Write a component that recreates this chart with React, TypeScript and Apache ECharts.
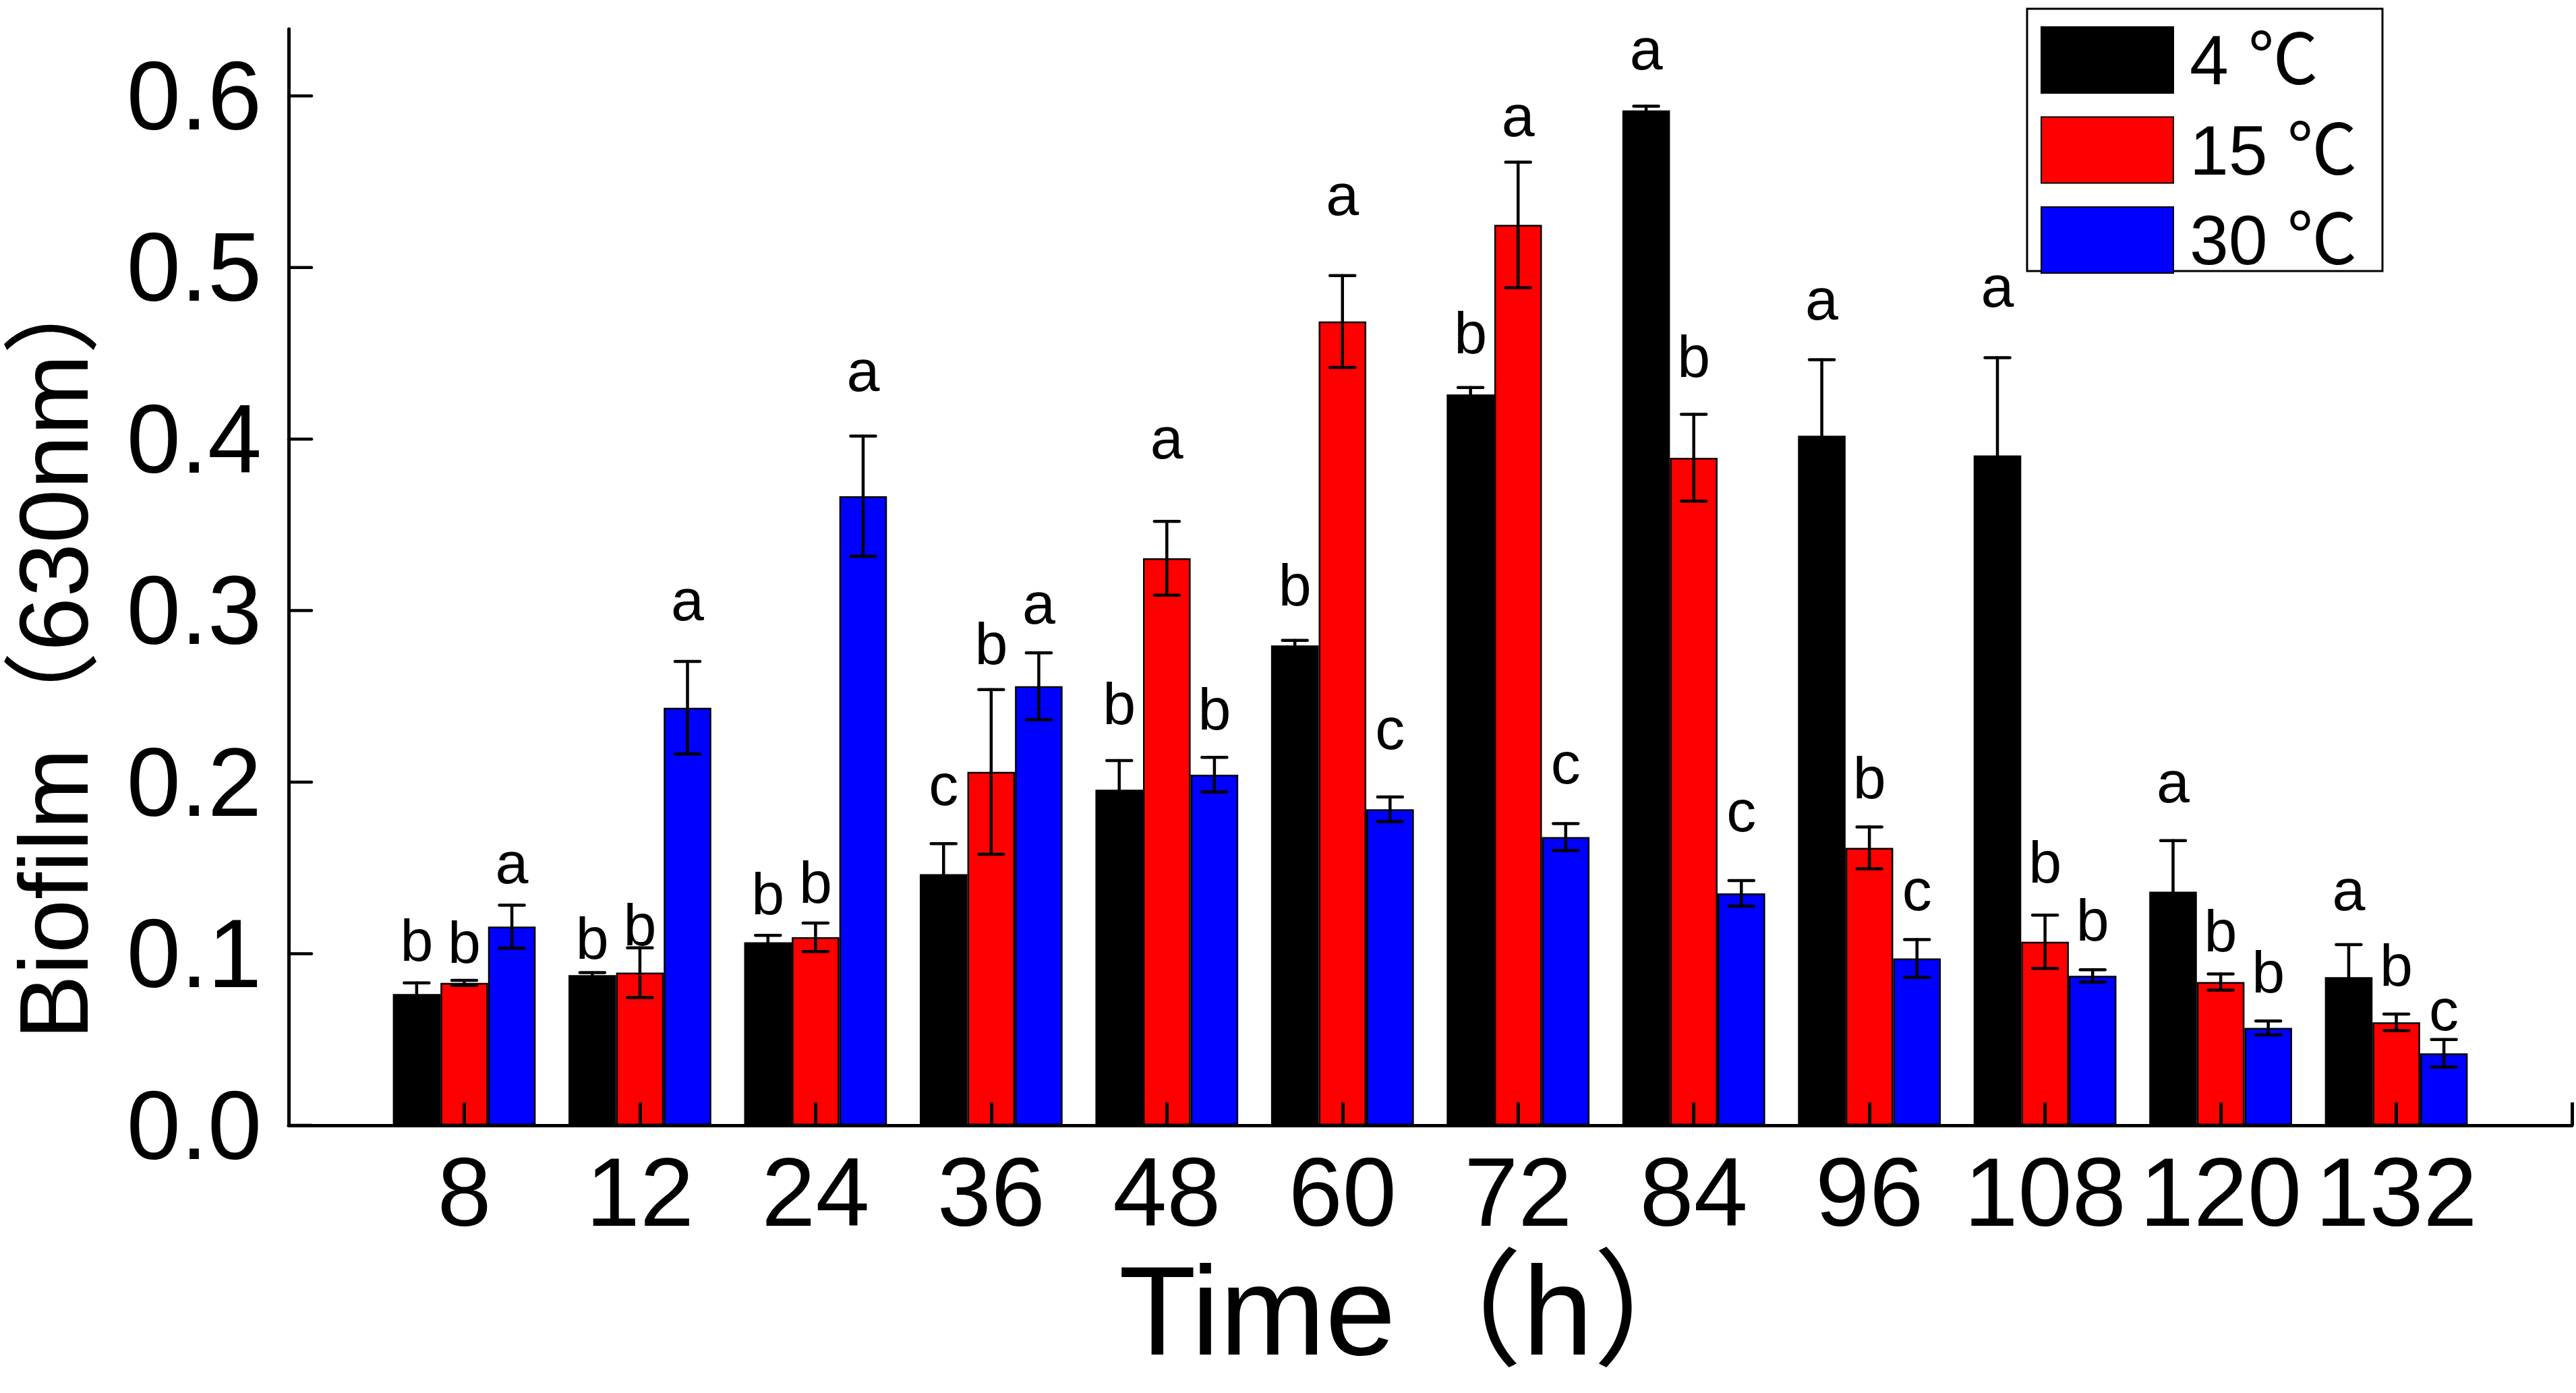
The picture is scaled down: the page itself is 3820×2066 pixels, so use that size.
import React, { useEffect, useRef } from "react";
import * as echarts from "echarts";

// ---- data ----
const categories = ["8", "12", "24", "36", "48", "60", "72", "84", "96", "108", "120", "132"];
const seriesNames = ["4 ℃", "15 ℃", "30 ℃"];

const mean4 = [0.0765, 0.0875, 0.1067, 0.1464, 0.1956, 0.2797, 0.426, 0.5915, 0.4019, 0.3904, 0.1362, 0.0864];
const err4 = [0.0065, 0.0015, 0.004, 0.0178, 0.017, 0.003, 0.004, 0.0025, 0.0443, 0.057, 0.0297, 0.0189];
const mean15 = [0.083, 0.089, 0.1096, 0.206, 0.3305, 0.4685, 0.5248, 0.3891, 0.1617, 0.107, 0.0835, 0.06];
const err15 = [0.0015, 0.0145, 0.0083, 0.048, 0.0215, 0.0268, 0.0366, 0.0253, 0.0122, 0.0155, 0.0047, 0.0048];
const mean30 = [0.1158, 0.2434, 0.3667, 0.2559, 0.2044, 0.1842, 0.168, 0.1352, 0.0973, 0.0871, 0.0568, 0.042];
const err30 = [0.0125, 0.027, 0.035, 0.0195, 0.0101, 0.0072, 0.0079, 0.0075, 0.011, 0.0036, 0.004, 0.008];

const letters4 = ["b", "b", "b", "c", "b", "b", "b", "a", "a", "a", "a", "a"];
const letters15 = ["b", "b", "b", "b", "a", "a", "a", "b", "b", "b", "b", "b"];
const letters30 = ["a", "a", "a", "a", "b", "c", "c", "c", "c", "b", "b", "c"];

// baseline height (in data units) of each significance letter
const letterBase4 = [0.096, 0.097, 0.123, 0.1865, 0.234, 0.3031, 0.4499, 0.6153, 0.4696, 0.4769, 0.1883, 0.1255];
const letterBase15 = [0.0947, 0.1051, 0.1297, 0.2689, 0.3885, 0.5307, 0.5765, 0.4364, 0.1906, 0.1416, 0.1013, 0.0813];
const letterBase30 = [0.141, 0.2945, 0.4281, 0.2924, 0.2308, 0.2191, 0.1991, 0.1714, 0.1255, 0.1075, 0.0776, 0.0554];

const yTicks = [0, 0.1, 0.2, 0.3, 0.4, 0.5, 0.6];

// ---- style ----
const W = 3820;
const H = 2066;
const FONT = "'Liberation Sans', Arial, 'Noto Sans CJK SC', sans-serif";
const BAR_FRAC = 0.271;
const LETTER_SIZE = 88;

export default function App() {
  const ref = useRef<HTMLDivElement>(null);

  useEffect(() => {
    if (!ref.current) return;
    const chart = echarts.init(ref.current, null, { renderer: "svg", width: W, height: H });

    const groups = [
      { name: seriesNames[0], color: "#000000", mean: mean4, err: err4, letters: letters4, lb: letterBase4 },
      { name: seriesNames[1], color: "#ff0000", mean: mean15, err: err15, letters: letters15, lb: letterBase15 },
      { name: seriesNames[2], color: "#0000ff", mean: mean30, err: err30, letters: letters30, lb: letterBase30 },
    ];
    const axisCats = ["", ...categories, ""];

    const barSeries = groups.map((g) => ({
      type: "bar",
      name: g.name,
      data: [null, ...g.mean, null],
      barWidth: (BAR_FRAC * 100).toFixed(1) + "%",
      barGap: "0%",
      itemStyle: { color: g.color, borderColor: "#000", borderWidth: 2.5 },
      z: 2,
    }));

    const errSeries = groups.map((g, si) => ({
      type: "custom",
      name: g.name + "-err",
      silent: true,
      z: 3,
      encode: { x: 0, y: 1 },
      data: g.mean.map((v, i) => [i + 1, v, g.err[i], g.lb[i]]),
      renderItem: (params: any, api: any) => {
        const idx = api.value(0);
        const v = api.value(1);
        const e = api.value(2);
        const lb = api.value(3);
        const bw = api.size([1, 0])[0] * BAR_FRAC;
        const cx = api.coord([idx, v])[0] + (si - 1) * bw;
        const yTop = api.coord([idx, v + e])[1];
        const yBot = api.coord([idx, v - e])[1];
        const yL = api.coord([idx, lb])[1];
        const half = 18.5;
        const ls = { stroke: "#000", lineWidth: 4.5, lineCap: "round" };
        return {
          type: "group",
          children: [
            { type: "line", shape: { x1: cx, y1: yTop, x2: cx, y2: yBot }, style: ls },
            { type: "line", shape: { x1: cx - half, y1: yTop, x2: cx + half, y2: yTop }, style: ls },
            { type: "line", shape: { x1: cx - half, y1: yBot, x2: cx + half, y2: yBot }, style: ls },
            {
              type: "text",
              x: cx,
              y: yL - 0.3465 * LETTER_SIZE,
              style: {
                text: g.letters[params.dataIndex],
                fill: "#000",
                fontSize: LETTER_SIZE,
                fontFamily: FONT,
                align: "center",
                verticalAlign: "middle",
                textAlign: "center",
                textVerticalAlign: "middle",
              },
            },
          ],
        };
      },
    }));

    // inward y-axis ticks, placed through the axis scale
    const yTickSeries = {
      type: "custom",
      name: "y-ticks",
      silent: true,
      z: 11,
      encode: { x: 0, y: 1 },
      data: yTicks.map((v) => [0, v]),
      renderItem: (_p: any, api: any) => {
        const pt = api.coord([0, api.value(1)]);
        return {
          type: "line",
          shape: { x1: pt[0], y1: pt[1], x2: pt[0] + 34, y2: pt[1] },
          style: { stroke: "#000", lineWidth: 4.5, lineCap: "round" },
        };
      },
    };

    const option: any = {
      animation: false,
      backgroundColor: "#ffffff",
      grid: { left: 428, right: 6, top: 43, bottom: 397, containLabel: false, outerBoundsMode: "none" },
      legend: {
        data: seriesNames,
        orient: "vertical",
        left: 3026,
        top: 37,
        padding: 0,
        icon: "rect",
        itemWidth: 196,
        itemHeight: 98,
        itemGap: 29.5,
        selectedMode: false,
        textStyle: {
          fontSize: 104,
          fontFamily: FONT,
          color: "#000",
          lineHeight: 98,
          padding: [0, 0, 0, 19],
        },
      },
      xAxis: {
        type: "category",
        data: axisCats,
        boundaryGap: false,
        z: 10,
        axisLine: { show: true, lineStyle: { color: "#000", width: 5 } },
        axisTick: { show: true, inside: true, length: 34, interval: 0, lineStyle: { color: "#000", width: 5 } },
        axisLabel: { interval: 0, fontSize: 144, fontFamily: FONT, color: "#000", margin: 27 },
        splitLine: { show: false },
      },
      yAxis: {
        type: "value",
        min: 0,
        max: 0.639,
        interval: 0.1,
        z: 10,
        axisLine: { show: true, onZero: false, lineStyle: { color: "#000", width: 5 } },
        axisTick: { show: false },
        axisLabel: {
          customValues: yTicks,
          fontSize: 144,
          fontFamily: FONT,
          color: "#000",
          margin: 40,
          padding: [0, 0, 18, 0],
          formatter: (v: number) => v.toFixed(1),
        },
        splitLine: { show: false },
      },
      graphic: [
        {
          type: "rect",
          shape: { x: 3006, y: 13, width: 527, height: 389 },
          style: { fill: "none", stroke: "#000", lineWidth: 3 },
          silent: true,
        },
        {
          type: "text",
          x: 80,
          y: 1542,
          rotation: Math.PI / 2,
          style: {
            text: "Biofilm（630nm）",
            fontSize: 144,
            fontFamily: FONT,
            fill: "#000",
            align: "left",
            verticalAlign: "middle",
            textAlign: "left",
            textVerticalAlign: "middle",
          },
        },
        {
          type: "text",
          x: 1659,
          y: 1944,
          style: {
            text: "Time（h）",
            fontSize: 188,
            fontFamily: FONT,
            fill: "#000",
            align: "left",
            verticalAlign: "middle",
            textAlign: "left",
            textVerticalAlign: "middle",
          },
        },
      ],
      series: [...barSeries, ...errSeries, yTickSeries],
    };

    chart.setOption(option);
    return () => chart.dispose();
  }, []);

  return (
    <div
      ref={ref}
      style={{ position: "absolute", left: 0, top: 0, width: W, height: H, background: "#fff" }}
    />
  );
}
